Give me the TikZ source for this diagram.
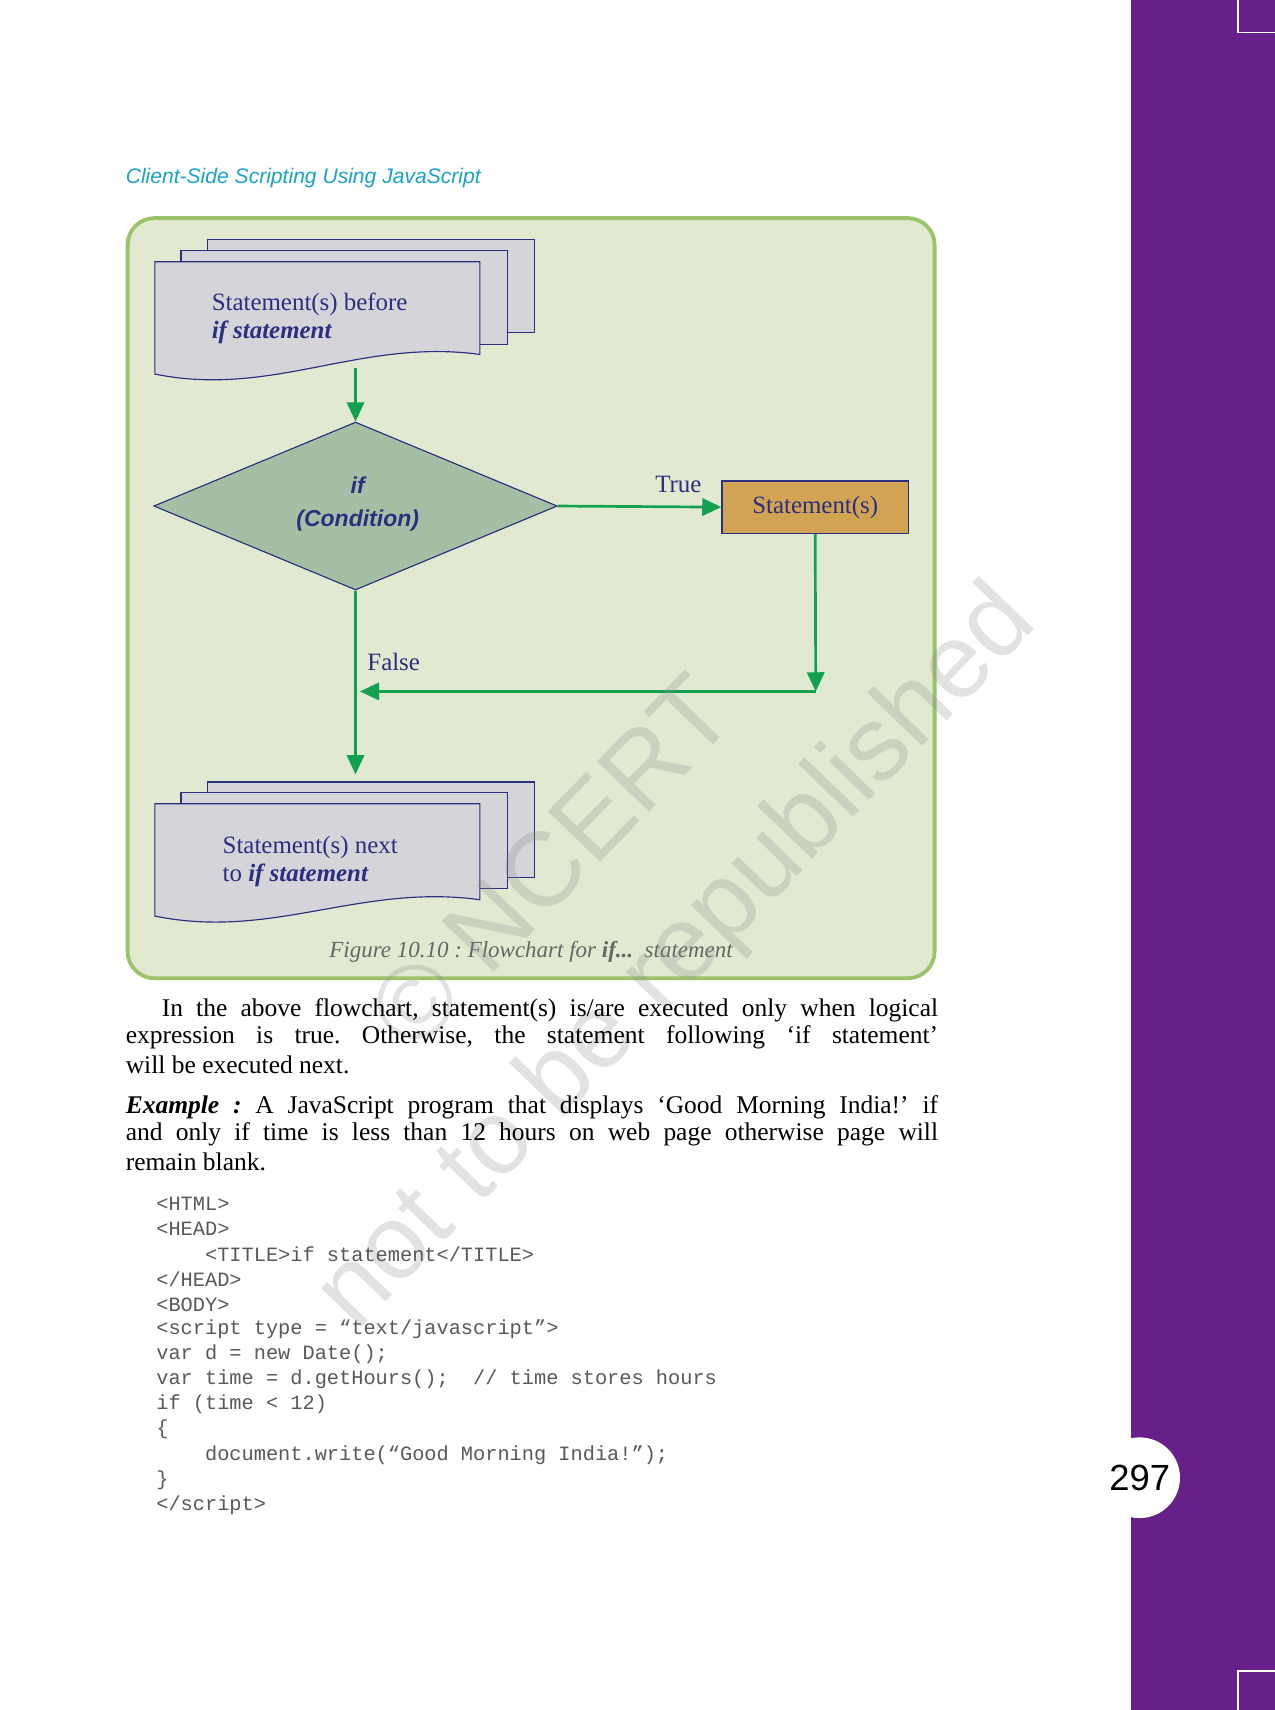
\documentclass[tikz,border=0pt]{standalone}
\usepackage{fontspec}
\setmainfont{Liberation Serif}
\setsansfont{Liberation Sans}
\setmonofont{Liberation Mono}
\usetikzlibrary{arrows.meta,shapes.geometric}
\frenchspacing
\definecolor{navy}{HTML}{2B2F7F}
\definecolor{flowgreen}{HTML}{12A150}
\definecolor{panel}{HTML}{E1E9D1}
\definecolor{panelborder}{HTML}{9BC46A}
\definecolor{docfill}{HTML}{D4D4D9}
\definecolor{diamfill}{HTML}{A5BFA5}
\definecolor{boxfill}{HTML}{D1A352}
\definecolor{purpleband}{HTML}{65208A}
\definecolor{headcyan}{HTML}{19A3C4}
\tikzset{
  doc/.style={fill=docfill,draw=navy,semithick},
  flow/.style={draw=flowgreen,line width=1.4pt,-{Triangle[length=10pt,width=9pt]}},
  label/.style={text=navy,font=\fontsize{13}{15}\selectfont},
  bodyline/.style={anchor=west,inner sep=0pt,font=\fontsize{13.3}{15}\selectfont},
  codeline/.style={anchor=west,inner sep=0pt,text=black!65,font=\ttfamily\fontsize{10.6}{12}\selectfont},
  watermark/.style={text=black!45,opacity=0.25,rotate=46,font=\sffamily\fontsize{55}{58}\selectfont}
}
\begin{document}
\begin{tikzpicture}[x=0.02cm,y=-0.02cm]
\useasboundingbox (0,0) rectangle (1169,1568);
\fill[white] (0,0) rectangle (1169,1568);
% side band and page marks
\fill[purpleband] (1037,0) rectangle (1169,1568);
\draw[white,thick] (1135,0) -- (1135,30) -- (1169,30);
\draw[white,thick] (1169,1532) -- (1135,1532) -- (1135,1568);
\fill[white] (1045,1355) circle (37);
\node (pageno) at (1045,1355) {\sffamily\fontsize{19}{21}\selectfont 297};
% header
\node[anchor=west,inner sep=0pt,text=headcyan] (header) at (115,163)
  {\sffamily\itshape\fontsize{11}{13}\selectfont Client-Side Scripting Using JavaScript};
% panel
\draw[fill=panel,draw=panelborder,line width=2pt,rounded corners=14pt] (117,200) rectangle (857,897);
% top document stack
\draw[doc] (190,220) rectangle (490,305);
\draw[doc] (166,230) rectangle (465,316);
\draw[doc] (142,240) -- (440,240) -- (440,325) .. controls (330,310) and (250,365) .. (142,343) -- cycle;
\node[label,anchor=west,align=left] (before) at (188,292)
  {Statement(s) before\\\textbf{\textit{if statement}}};
\coordinate (beforeout) at (326,337);
% decision
\node[diamond,fill=diamfill,draw=navy,semithick,
  inner sep=0pt,minimum width=7.4cm,minimum height=3.08cm] (cond) at (326,464) {};
\node[label,align=center,font=\sffamily\bfseries\itshape\fontsize{12}{17}\selectfont] (condtext) at (328,462) {if\\(Condition)};
% true branch
\node[draw=navy,semithick,fill=boxfill,minimum width=3.42cm,minimum height=0.96cm,label] (stmt) at (747.5,465) {Statement(s)};
\node[label] (truelbl) at (622,444) {True};
\node[label] (falselbl) at (361,607) {False};
\coordinate (joinr) at (748,634);
\coordinate (joinl) at (330,634);
\coordinate (afterin) at (326,710);
% bottom document stack
\draw[doc] (190,717) rectangle (490,805);
\draw[doc] (166,727) rectangle (465,815);
\draw[doc] (142,737) -- (440,737) -- (440,825) .. controls (330,810) and (250,862) .. (142,840) -- cycle;
\node[label,anchor=west,align=left] (after) at (198,790)
  {Statement(s) next\\to \textbf{\textit{if statement}}};
% connectors
\draw[flow] (beforeout) -- (cond.north);
\draw[flow] (cond.east) -- (stmt.west);
\draw[flow] (stmt.south) -- (joinr);
\draw[flow] (joinr) -- (joinl);
\draw[flow] (cond.south) -- (afterin);
% caption
\node[text=black!60,font=\itshape\fontsize{12}{14}\selectfont] (caption) at (487,873)
  {Figure 10.10 : Flowchart for \textbf{if...}\ \ statement};
% watermark
\node[watermark] (wm1) at (505,790) {© NCERT};
\node[watermark] (wm2) at (622,880) {not to be republished};
% body text
\node[bodyline] (p1a) at (115,926) {\hbox to 14.9cm{\hspace{0.66cm}In the above flowchart, statement(s) is/are executed only when logical}};
\node[bodyline] (p1b) at (115,951) {\hbox to 14.9cm{expression is true. Otherwise, the statement following ‘if statement’}};
\node[bodyline] (p1c) at (115,976) {will be executed next.};
\node[bodyline] (p2a) at (115,1015) {\hbox to 14.9cm{\textbf{\textit{Example :}} A JavaScript program that displays ‘Good Morning India!’ if}};
\node[bodyline] (p2b) at (115,1040) {\hbox to 14.9cm{and only if time is less than 12 hours on web page otherwise page will}};
\node[bodyline] (p2c) at (115,1065) {remain blank.};
% code
\foreach \ln [count=\i from 0] in {<HTML>,<HEAD>,{\ \ \ \ <TITLE>if statement</TITLE>},</HEAD>,<BODY>,
  {<script type = “text/javascript”>},{var d = new Date();},{var time = d.getHours();\ \ // time stores hours},
  {if (time < 12)},\{,{\ \ \ \ document.write(“Good Morning India!”);},\},</script>}
  \node[codeline] (code\i) at (143,1104+23*\i) {\ln};
\end{tikzpicture}
\end{document}
